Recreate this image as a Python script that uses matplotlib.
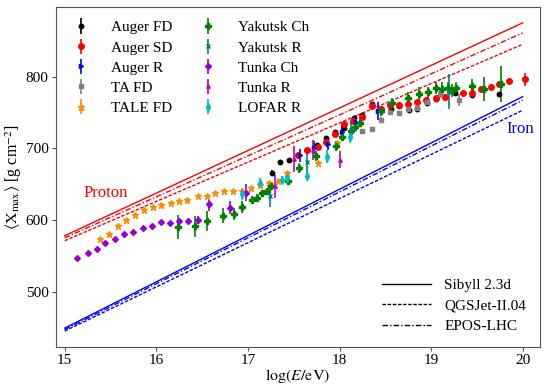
import matplotlib
matplotlib.use("Agg")
import matplotlib.pyplot as plt
from matplotlib.lines import Line2D

plt.rcParams['font.family'] = ['Liberation Serif', 'DejaVu Serif']
plt.rcParams['mathtext.fontset'] = 'stix'

# model lines (straight in lgE)
lge_line = [15, 20]
p_sibyll = [578, 875]
p_epos = [575, 861]
p_qgs = [571, 845]
fe_sibyll = [449, 772]
fe_epos = [447, 767]
fe_qgs = [445, 753]

# Auger FD
afd_x = [17.26, 17.35, 17.45, 17.55, 17.65, 17.75, 17.85, 17.95, 18.05, 18.16, 18.25, 18.36,
         18.45, 18.56, 18.65, 18.76, 18.85, 18.95, 19.05, 19.15, 19.26, 19.45, 19.74]
afd_y = [666, 681, 683, 690, 698, 705, 714, 722, 728, 742, 746, 762,
         755, 755, 759, 754, 755, 763, 769, 772, 777, 774, 776]
afd_e = [3] * len(afd_x)

# Auger SD
asd_x = [17.55, 17.65, 17.76, 17.85, 17.95, 18.05, 18.15, 18.25, 18.35, 18.45, 18.55, 18.65,
         18.75, 18.85, 18.94, 19.05, 19.15, 19.35, 19.45, 19.55, 19.65, 19.74, 19.85, 20.02]
asd_y = [690, 697, 702, 709, 720, 734, 738, 744, 759, 755, 761, 761,
         762, 764, 768, 770, 771, 777, 777, 783, 786, 790, 794, 796]
asd_e = [3] * 23 + [9]

# Auger R
ar_x = [17.57, 17.72, 17.87, 18.03, 18.18, 18.42]
ar_y = [690, 701, 706, 723, 737, 752]
ar_e = [9, 9, 9, 9, 10, 13]

# TA FD
ta_x = [18.25, 18.35, 18.45, 18.55, 18.65, 18.75, 18.85, 18.95, 19.1, 19.3]
ta_y = [724, 727, 740, 750, 749, 755, 756, 764, 775, 767]
ta_e = [3, 3, 3, 3, 3, 3, 3, 3, 5, 8]

# TALE FD
tale_x = [15.39, 15.48, 15.58, 15.67, 15.77, 15.87, 15.96, 16.05, 16.16, 16.25, 16.34,
          16.45, 16.55, 16.64, 16.74, 16.84, 16.94, 17.03, 17.13, 17.23, 17.33, 17.43, 17.77, 17.97]
tale_y = [573, 581, 591, 600, 607, 614, 618, 621, 624, 626, 628,
          633, 634, 637, 640, 640, 641, 645, 649, 652, 655, 665, 679, 708]
tale_e = [2] * len(tale_x)

# Yakutsk Cherenkov
yc_x = [16.24, 16.42, 16.55, 16.73, 16.85, 16.94, 17.04, 17.1, 17.15, 17.21, 17.25, 17.44, 17.56,
        17.74, 17.96, 18.03, 18.13, 18.17, 18.22, 18.45, 18.57, 18.75, 18.87, 18.97, 19.05,
        19.12, 19.18, 19.23, 19.27, 19.45, 19.58, 19.76]
yc_y = [590, 591, 598, 606, 608, 618, 628, 631, 637, 640, 647, 655, 672,
        689, 703, 716, 724, 730, 735, 752, 763, 770, 776, 778, 784,
        783, 784, 780, 784, 787, 783, 790]
yc_e = [17, 15, 14, 10, 8, 8, 6, 5, 5, 5, 5, 6, 7,
        7, 7, 6, 6, 6, 6, 7, 7, 9, 9, 8, 9,
        9, 8, 9, 9, 10, 17, 25]

# Yakutsk radio
yr_x = [17.24, 17.64, 18.13, 19.19]
yr_y = [633, 681, 726, 779]
yr_e = [15, 20, 12, 24]

# Tunka Cherenkov
tc_x = [15.13, 15.25, 15.35, 15.44, 15.55, 15.65, 15.75, 15.85, 15.95, 16.05, 16.15, 16.25, 16.35,
        16.45, 16.57, 16.8, 16.98]
tc_y = [547, 554, 560, 568, 573, 580, 583, 589, 591, 597, 596, 598, 598,
        600, 622, 617, 638]
tc_e = [2] * 13 + [6, 9, 9, 12]

# Tunka radio
tr_x = [17.3, 17.5, 17.71, 18.0]
tr_y = [647, 685, 698, 684]
tr_e = [16, 18, 14, 12]

# LOFAR
lo_x = [16.94, 17.13, 17.37, 17.43, 17.64, 17.86, 18.11]
lo_y = [636, 652, 656, 658, 661, 688, 716]
lo_e = [8, 7, 5, 5, 6, 9, 9]

fig = plt.figure(figsize=(5.5, 3.91), dpi=100)
ax = fig.add_axes([0.101, 0.113, 0.881, 0.869])

# models
ax.plot(lge_line, p_sibyll, color='red', lw=1, ls='-')
ax.plot(lge_line, p_epos, color='red', lw=1, ls='-.', dashes=(4, 1.5, 1, 1.5))
ax.plot(lge_line, p_qgs, color='red', lw=1, ls='--', dashes=(2.5, 1.2))
ax.plot(lge_line, fe_sibyll, color='blue', lw=1, ls='-')
ax.plot(lge_line, fe_epos, color='blue', lw=1, ls='-.', dashes=(4, 1.5, 1, 1.5))
ax.plot(lge_line, fe_qgs, color='blue', lw=1, ls='--', dashes=(2.5, 1.2))

series = [
    (afd_x, afd_y, afd_e, 'Auger FD', 'black', 'o', 3.2),
    (asd_x, asd_y, asd_e, 'Auger SD', 'red', 'o', 4),
    (ar_x, ar_y, ar_e, 'Auger R', 'blue', '>', 3),
    (ta_x, ta_y, ta_e, 'TA FD', 'grey', 's', 3.5),
    (tale_x, tale_y, tale_e, 'TALE FD', 'darkorange', '*', 4.5),
    (yc_x, yc_y, yc_e, 'Yakutsk Ch', 'green', 'P', 4.5),
    (yr_x, yr_y, yr_e, 'Yakutsk R', 'teal', 'x', 3.5),
    (tc_x, tc_y, tc_e, 'Tunka Ch', 'darkviolet', 'D', 3),
    (tr_x, tr_y, tr_e, 'Tunka R', 'm', '^', 2.5),
    (lo_x, lo_y, lo_e, 'LOFAR R', 'c', 'd', 4),
]
handles = []
for x, y, e, lab, col, mk, ms in series:
    h = ax.errorbar(x, y, yerr=e, fmt=mk, color=col, ms=ms, elinewidth=1.2,
                    ecolor=col, capsize=0, label=lab)
    handles.append(h)

ax.text(15.2, 638, 'Proton', color='red', fontsize=12, va='center')
ax.text(19.82, 727, 'Iron', color='blue', fontsize=12, va='center')

leg1 = ax.legend(handles=handles, loc='upper left', ncol=2, frameon=False, fontsize=11,
                 bbox_to_anchor=(0.0, 1.0), handlelength=1.5, columnspacing=1.6,
                 labelspacing=0.42, handletextpad=1.2)
ax.add_artist(leg1)

model_handles = [Line2D([], [], color='black', lw=1, ls='-'),
                 Line2D([], [], color='black', lw=1, ls='--', dashes=(2.5, 1.2)),
                 Line2D([], [], color='black', lw=1, ls='-.', dashes=(4, 1.5, 1, 1.5))]
ax.legend(model_handles, ['Sibyll 2.3d', 'QGSJet-II.04', 'EPOS-LHC'], loc='lower right',
          frameon=False, fontsize=11, bbox_to_anchor=(1.0, 0.0), handlelength=3.2,
          labelspacing=0.45, handletextpad=0.9)

ax.set_xlim(14.9, 20.19)
ax.set_ylim(423, 897)
ax.set_xticks([15, 16, 17, 18, 19, 20])
ax.set_yticks([500, 600, 700, 800])
ax.tick_params(labelsize=11, color='#555555', length=3, pad=2)
for s in ax.spines.values():
    s.set_color('#555555')
ax.set_xlabel(r'$\log(E/\mathrm{eV})$', fontsize=11.5, labelpad=0)
ax.set_ylabel(r'$\langle \mathrm{X}_{\mathrm{max}}\rangle$ [g cm$^{-2}$]', fontsize=11.5, labelpad=1)

fig.savefig('out.png', dpi=100)
